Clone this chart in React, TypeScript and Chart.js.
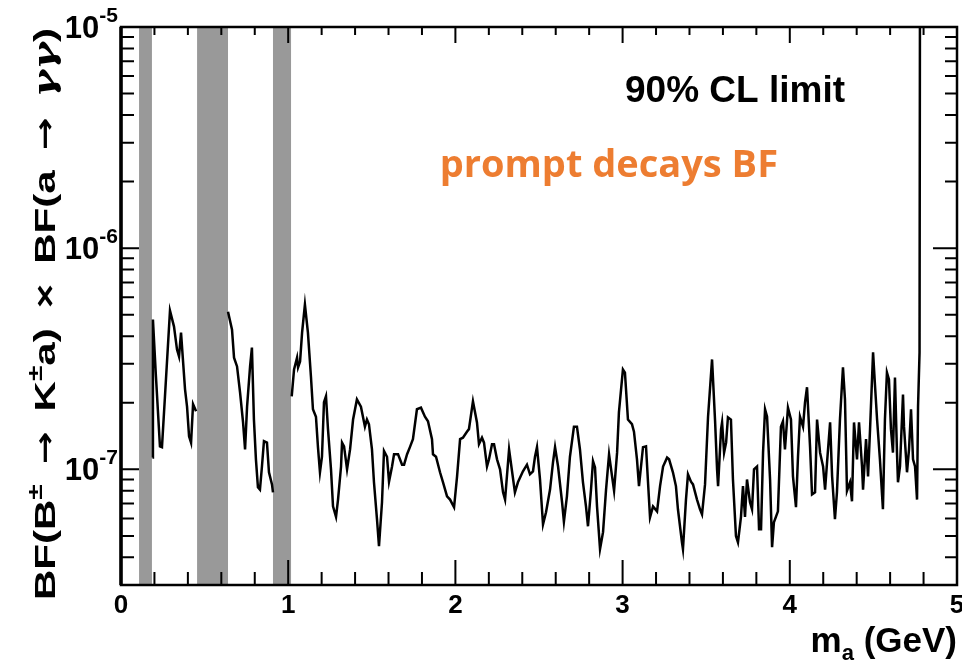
import { useEffect, useRef } from 'react';
import { Chart, registerables } from 'chart.js';

Chart.register(...registerables);

// ---- data (m_a in GeV, limit values in units of 1e-7) ----
const seg1Mass = [0.188, 0.191, 0.209, 0.233, 0.245, 0.263, 0.293, 0.317, 0.335, 0.347, 0.359, 0.383, 0.395, 0.407, 0.419, 0.431, 0.449];
const seg1Limit = [1.13, 4.76, 2.63, 1.27, 1.26, 2.14, 5.22, 4.42, 3.48, 3.24, 4.15, 2.30, 1.92, 1.41, 1.32, 1.97, 1.83];

const seg2Mass = [0.640, 0.664, 0.676, 0.694, 0.712, 0.730, 0.742, 0.754, 0.772, 0.783, 0.795, 0.807, 0.819, 0.831, 0.843, 0.855, 0.873, 0.885, 0.903, 0.909];
const seg2Limit = [5.16, 4.28, 3.20, 2.92, 2.23, 1.63, 1.23, 1.92, 2.92, 3.55, 1.68, 1.11, 0.83, 0.81, 1.03, 1.34, 1.32, 0.97, 0.855, 0.787];

const seg3Mass = [
  1.021, 1.035, 1.053, 1.059, 1.071, 1.083, 1.100, 1.118, 1.136, 1.148,
  1.166, 1.178, 1.190, 1.202, 1.214, 1.226, 1.238, 1.256, 1.268, 1.286,
  1.298, 1.316, 1.322, 1.334, 1.352, 1.370, 1.388, 1.411, 1.435, 1.459,
  1.471, 1.483, 1.501, 1.513, 1.531, 1.543, 1.561, 1.573, 1.591, 1.603,
  1.621, 1.633, 1.657, 1.681, 1.693, 1.711, 1.728, 1.746, 1.770, 1.794,
  1.818, 1.836, 1.860, 1.866, 1.884, 1.908, 1.926, 1.950, 1.968, 1.992,
  2.010, 2.028, 2.045, 2.069, 2.081, 2.105, 2.129, 2.141, 2.159, 2.171,
  2.189, 2.201, 2.219, 2.231, 2.249, 2.267, 2.285, 2.297, 2.321, 2.356,
  2.374, 2.404, 2.428, 2.446, 2.464, 2.476, 2.488, 2.506, 2.524, 2.542,
  2.566, 2.584, 2.596, 2.614, 2.638, 2.649, 2.667, 2.685, 2.709, 2.727,
  2.745, 2.763, 2.781, 2.793, 2.811, 2.823, 2.835, 2.847, 2.865, 2.883,
  2.901, 2.919, 2.937, 2.949, 2.967, 2.978, 3.002, 3.014, 3.032, 3.056,
  3.068, 3.086, 3.098, 3.122, 3.140, 3.152, 3.164, 3.182, 3.206, 3.224,
  3.242, 3.266, 3.278, 3.301, 3.319, 3.331, 3.355, 3.361, 3.379, 3.391,
  3.409, 3.421, 3.445, 3.463, 3.475, 3.493, 3.511, 3.535, 3.553, 3.565,
  3.571, 3.589, 3.595, 3.607, 3.619, 3.630, 3.648, 3.660, 3.678, 3.690,
  3.708, 3.720, 3.732, 3.744, 3.762, 3.774, 3.786, 3.804, 3.816, 3.828,
  3.840, 3.852, 3.864, 3.882, 3.894, 3.905, 3.917, 3.929, 3.947, 3.959,
  3.971, 3.989, 4.007, 4.019, 4.037, 4.049, 4.061, 4.079, 4.091, 4.103,
  4.121, 4.133, 4.151, 4.163, 4.181, 4.199, 4.211, 4.223, 4.241, 4.253,
  4.270, 4.282, 4.300, 4.318, 4.330, 4.342, 4.360, 4.372, 4.384, 4.402,
  4.414, 4.432, 4.438, 4.456, 4.468, 4.480, 4.498, 4.510, 4.522, 4.539,
  4.557, 4.569, 4.581, 4.593, 4.605, 4.617, 4.629, 4.641, 4.647, 4.659,
  4.677, 4.683, 4.701, 4.713, 4.725, 4.737, 4.749, 4.761, 4.767, 4.776,
  4.779,
];
const seg3Limit = [
  2.14, 2.83, 3.20, 2.89, 3.07, 4.15, 5.56, 4.15, 2.63, 1.87,
  1.73, 1.26, 0.97, 1.14, 2.01, 2.14, 1.52, 1.00, 0.68, 0.61,
  0.73, 1.03, 1.32, 1.27, 1.00, 1.23, 1.68, 2.07, 1.92, 1.56,
  1.68, 1.60, 1.23, 0.874, 0.595, 0.449, 0.71, 1.21, 1.14, 0.88,
  1.03, 1.17, 1.17, 1.05, 1.05, 1.17, 1.26, 1.37, 1.87, 1.90,
  1.73, 1.65, 1.37, 1.17, 1.14, 0.97, 0.874, 0.755, 0.73, 0.674,
  0.93, 1.37, 1.39, 1.48, 1.52, 2.03, 1.63, 1.30, 1.39, 1.32,
  1.03, 1.11, 1.30, 1.30, 1.11, 1.00, 0.787, 0.73, 1.23, 0.787,
  0.874, 0.98, 1.05, 0.95, 0.98, 1.14, 1.26, 0.90, 0.564, 0.64,
  0.81, 1.08, 1.26, 1.03, 0.71, 0.58, 0.755, 1.14, 1.56, 1.56,
  1.23, 0.874, 0.68, 0.553, 0.81, 1.09, 1.02, 0.68, 0.436, 0.52,
  0.81, 1.17, 0.93, 0.80, 1.19, 1.81, 2.83, 2.74, 1.68, 1.60,
  1.48, 1.11, 0.84, 1.26, 1.27, 0.874, 0.607, 0.68, 0.646, 0.84,
  1.03, 1.13, 1.11, 0.97, 0.84, 0.66, 0.468, 0.436, 0.73, 0.95,
  0.88, 0.855, 0.73, 0.66, 0.626, 0.855, 1.73, 3.14, 1.66, 1.00,
  0.84, 1.52, 1.63, 1.19, 1.32, 1.72, 1.68, 0.90, 0.50, 0.468,
  0.61, 0.84, 0.61, 0.90, 0.71, 0.66, 1.00, 1.03, 0.536, 0.536,
  1.19, 1.87, 1.73, 0.90, 0.445, 0.576, 0.61, 0.646, 1.56, 1.65,
  1.23, 1.90, 1.68, 0.93, 0.674, 1.14, 1.73, 1.56, 2.01, 2.35,
  1.27, 0.77, 0.787, 1.68, 1.19, 1.03, 0.81, 1.08, 1.63, 0.93,
  0.595, 0.787, 1.68, 2.89, 2.07, 0.80, 0.874, 0.717, 1.63, 1.11,
  1.63, 1.03, 0.81, 1.37, 0.93, 1.52, 3.38, 2.37, 1.68, 1.11,
  0.66, 1.68, 2.74, 2.55, 1.52, 1.19, 2.60, 1.19, 0.874, 1.03,
  2.18, 1.56, 0.97, 1.23, 1.87, 1.11, 1.03, 0.73, 1.92, 3.38,
  300,
];
const LIMIT_UNIT = 1e-7;

const vetoBands = [
  [0.108, 0.185],
  [0.455, 0.640],
  [0.909, 1.017],
];

const xMin = 0;
const xMax = 5;
const yMin = 3e-8;
const yMax = 1e-5;
const xMajorTicks = [0, 1, 2, 3, 4, 5];
const xMajorLabels = ['0', '1', '2', '3', '4', '5'];
const xMinorTicks = [0.2, 0.4, 0.6, 0.8, 1.2, 1.4, 1.6, 1.8, 2.2, 2.4, 2.6, 2.8, 3.2, 3.4, 3.6, 3.8, 4.2, 4.4, 4.6, 4.8];
const yDecadeTicks = [1e-7, 1e-6, 1e-5];
const yDecadeExponents = ['-7', '-6', '-5'];
const yMinorTicks = [
  4e-8, 5e-8, 6e-8, 7e-8, 8e-8, 9e-8,
  2e-7, 3e-7, 4e-7, 5e-7, 6e-7, 7e-7, 8e-7, 9e-7,
  2e-6, 3e-6, 4e-6, 5e-6, 6e-6, 7e-6, 8e-6, 9e-6,
];

// y-axis title pieces: kind 'n' normal, 's' superscript, 'g' gap, 'r' arrow, 'y' greek
const yTitlePieces: [string, string][] = [
  ['n', 'BF(B'], ['s', '\u00B1'], ['g', ''], ['r', '\u2192'], ['g', ''],
  ['n', 'K'], ['s', '\u00B1'], ['n', 'a)'], ['g', ''], ['n', '\u00D7'], ['g', ''],
  ['n', 'BF(a'], ['g', ''], ['r', '\u2192'], ['g', ''], ['y', '\u03B3\u03B3'], ['n', ')'],
];
const clLabel = '90% CL limit';
const promptLabel = 'prompt decays BF';

const SANS = "'Liberation Sans', Arial, Helvetica, sans-serif";
const ARROW_FONT = "'DejaVu Sans', sans-serif";
const GREEK_FONT = "'DejaVu Serif', 'DejaVu Sans', serif";

type Part = { t: string; size: number; dy: number; fam?: string; gap?: number; style?: string };

function fontOf(p: Part) {
  return `${p.style || 'bold'} ${p.size}px ${p.fam || SANS}`;
}

function partW(ctx: CanvasRenderingContext2D, p: Part) {
  if (p.gap !== undefined) return p.gap;
  ctx.font = fontOf(p);
  return ctx.measureText(p.t).width;
}

function partsWidth(ctx: CanvasRenderingContext2D, parts: Part[]) {
  let w = 0;
  for (const p of parts) w += partW(ctx, p);
  return w;
}

function drawParts(ctx: CanvasRenderingContext2D, parts: Part[], x: number, y: number) {
  let cx = x;
  ctx.textAlign = 'left';
  ctx.textBaseline = 'alphabetic';
  for (const p of parts) {
    const w = partW(ctx, p);
    if (p.gap === undefined) {
      ctx.font = fontOf(p);
      ctx.fillText(p.t, cx, y + p.dy);
    }
    cx += w;
  }
}

const rootStylePlugin = {
  id: 'rootStyle',
  beforeDatasetsDraw(chart: any) {
    const { ctx, chartArea: a } = chart;
    const xs = chart.scales.x;
    ctx.save();
    ctx.fillStyle = '#999999';
    for (const [lo, hi] of vetoBands) {
      const x0 = xs.getPixelForValue(lo);
      const x1 = xs.getPixelForValue(hi);
      ctx.fillRect(x0, a.top - 1, x1 - x0, a.bottom - a.top + 1);
    }
    ctx.restore();
  },
  afterDatasetsDraw(chart: any) {
    const { ctx, chartArea: a } = chart;
    const xs = chart.scales.x;
    const ys = chart.scales.y;
    ctx.save();
    ctx.strokeStyle = '#000';
    ctx.lineWidth = 2;
    ctx.beginPath();
    for (const v of xMinorTicks) {
      const px = xs.getPixelForValue(v);
      ctx.moveTo(px, a.bottom); ctx.lineTo(px, a.bottom - 13);
      ctx.moveTo(px, a.top); ctx.lineTo(px, a.top + 8);
    }
    for (const v of xMajorTicks) {
      const px = xs.getPixelForValue(v);
      ctx.moveTo(px, a.bottom); ctx.lineTo(px, a.bottom - 25);
      ctx.moveTo(px, a.top); ctx.lineTo(px, a.top + 16);
    }
    for (const v of yMinorTicks) {
      const py = ys.getPixelForValue(v);
      ctx.moveTo(a.left, py); ctx.lineTo(a.left + 13, py);
      ctx.moveTo(a.right, py); ctx.lineTo(a.right - 12, py);
    }
    for (const v of yDecadeTicks) {
      const py = ys.getPixelForValue(v);
      ctx.moveTo(a.left, py); ctx.lineTo(a.left + 18, py);
      ctx.moveTo(a.right, py); ctx.lineTo(a.right - 24, py);
    }
    ctx.stroke();
    ctx.lineWidth = 2.5;
    ctx.strokeRect(a.left, a.top, a.right - a.left, a.bottom - a.top);
    ctx.beginPath();
    ctx.lineWidth = 3.5;
    ctx.moveTo(a.left, a.top); ctx.lineTo(a.left, a.bottom);
    ctx.stroke();
    ctx.restore();
  },
  afterDraw(chart: any) {
    const { ctx, chartArea: a } = chart;
    const xs = chart.scales.x;
    const ys = chart.scales.y;
    ctx.save();
    ctx.fillStyle = '#000';

    // x tick labels
    ctx.font = `bold 26px ${SANS}`;
    ctx.textAlign = 'center';
    ctx.textBaseline = 'alphabetic';
    xMajorTicks.forEach((v, i) => {
      ctx.fillText(xMajorLabels[i], xs.getPixelForValue(v), a.bottom + 28);
    });

    // y tick labels 10^n
    yDecadeTicks.forEach((v, i) => {
      const py = ys.getPixelForValue(v);
      const parts: Part[] = [
        { t: '10', size: 31, dy: 11 },
        { t: yDecadeExponents[i], size: 21, dy: -5 },
      ];
      const w = partsWidth(ctx, parts);
      drawParts(ctx, parts, a.left - 3 - w, py);
    });

    // x title: m_a (GeV)
    const xt: Part[] = [
      { t: 'm', size: 35, dy: 0 },
      { t: 'a', size: 22, dy: 8 },
      { t: ' (GeV)', size: 35, dy: 0 },
    ];
    const xw = partsWidth(ctx, xt);
    drawParts(ctx, xt, a.right - xw, a.bottom + 67);

    // y title (rotated, glyphs elongated along the text like the source figure)
    const stretch = 1.4;
    const yt: Part[] = yTitlePieces.map(([k, t]) => {
      if (k === 's') return { t, size: 20, dy: -13 };
      if (k === 'r') return { t, size: 28, dy: -1, fam: ARROW_FONT };
      if (k === 'y') return { t, size: 30, dy: 0, fam: GREEK_FONT, style: 'italic bold' };
      if (k === 'g') return { t, size: 30, dy: 0, gap: 0 };
      return { t, size: 30, dy: 0 };
    });
    const targetLen = 572 / stretch;
    const natural = partsWidth(ctx, yt);
    const nGaps = yt.filter((p) => p.gap !== undefined).length;
    const gap = Math.max(4, Math.min(30, (targetLen - natural) / nGaps));
    yt.forEach((p) => { if (p.gap !== undefined) p.gap = gap; });
    const yw = partsWidth(ctx, yt);
    ctx.save();
    ctx.translate(55, (a.top + a.bottom) / 2 + 8);
    ctx.rotate(-Math.PI / 2);
    ctx.scale(stretch, 1);
    drawParts(ctx, yt, -yw / 2, 0);
    ctx.restore();

    // annotations
    ctx.textAlign = 'right';
    ctx.font = `bold 37px ${SANS}`;
    ctx.fillStyle = '#000';
    ctx.fillText(clLabel, a.right - 112, a.top + 75);

    ctx.font = `bold 38px 'Open Sans', Lato, sans-serif`;
    ctx.fillStyle = '#ED7D31';
    ctx.fillText(promptLabel, a.right - 179, a.top + 150);
    ctx.restore();
  },
};

function toPoints(xs: number[], ys: number[]) {
  return xs.map((x, i) => ({ x, y: ys[i] * LIMIT_UNIT }));
}

export default function App() {
  const canvasRef = useRef<HTMLCanvasElement | null>(null);

  useEffect(() => {
    const canvas = canvasRef.current;
    if (!canvas) return;
    const lineStyle = {
      borderColor: '#000',
      borderWidth: 2.5,
      pointRadius: 0,
      tension: 0,
      fill: false,
    };
    const chart = new Chart(canvas, {
      type: 'line',
      data: {
        datasets: [
          { ...lineStyle, data: toPoints(seg1Mass, seg1Limit) },
          { ...lineStyle, data: toPoints(seg2Mass, seg2Limit) },
          { ...lineStyle, data: toPoints(seg3Mass, seg3Limit) },
        ],
      },
      options: {
        responsive: false,
        animation: false,
        events: [],
        layout: { padding: { left: 121, right: 5, top: 27, bottom: 78 } },
        plugins: { legend: { display: false }, tooltip: { enabled: false } },
        scales: {
          x: { type: 'linear', min: xMin, max: xMax, display: false },
          y: { type: 'logarithmic', min: yMin, max: yMax, display: false },
        },
      },
      plugins: [rootStylePlugin],
    } as any);
    return () => chart.destroy();
  }, []);

  return (
    <div style={{ position: 'fixed', left: 0, top: 0, width: 962, height: 663, background: '#fff' }}>
      <canvas ref={canvasRef} width={962} height={663} style={{ width: 962, height: 663, display: 'block' }} />
    </div>
  );
}
